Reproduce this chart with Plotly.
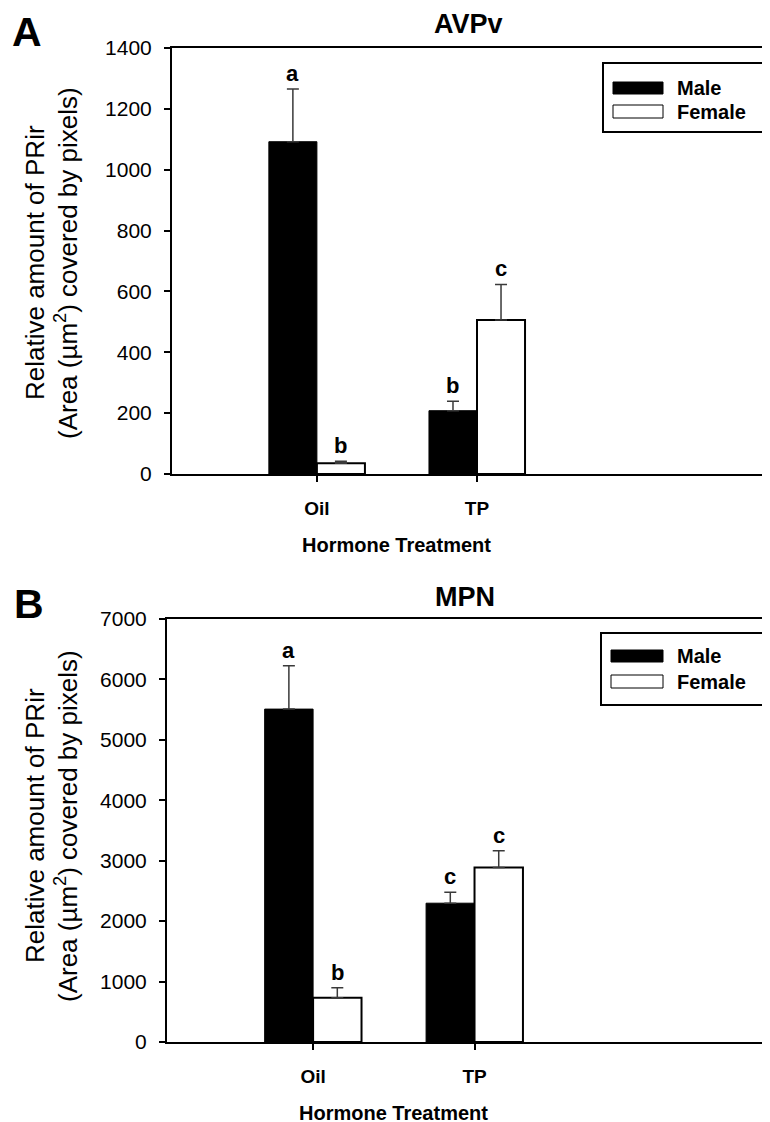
import plotly.graph_objects as go

W, H = 770, 1122
OFF = 8  # page body margin in the viewer

categories = ["Oil", "TP"]
series = ["Male", "Female"]

# Panel A: AVPv
avpv_male = [1092, 208]
avpv_male_err = [173, 31]
avpv_female = [35, 506]
avpv_female_err = [7, 117]
avpv_male_letters = ["a", "b"]
avpv_female_letters = ["b", "c"]

# Panel B: MPN
mpn_male = [5509, 2297]
mpn_male_err = [717, 182]
mpn_female = [734, 2887]
mpn_female_err = [165, 276]
mpn_male_letters = ["a", "c"]
mpn_female_letters = ["b", "c"]

avpv_ticks = [0, 200, 400, 600, 800, 1000, 1200, 1400]
mpn_ticks = [0, 1000, 2000, 3000, 4000, 5000, 6000, 7000]

FONT = "Arial, Liberation Sans, Helvetica, sans-serif"
BAR_W = 0.3


def px(x):
    return (x - OFF) / W


def py(y):
    return 1 - (y - OFF) / H


fig = go.Figure()
idx = list(range(len(categories)))

panels = [
    dict(xa="x", ya="y", male=avpv_male, merr=avpv_male_err, fem=avpv_female,
         ferr=avpv_female_err, ml=avpv_male_letters, fl=avpv_female_letters),
    dict(xa="x2", ya="y2", male=mpn_male, merr=mpn_male_err, fem=mpn_female,
         ferr=mpn_female_err, ml=mpn_male_letters, fl=mpn_female_letters),
]

annotations = []
for p in panels:
    fig.add_trace(go.Bar(
        x=idx, y=p["male"], width=BAR_W, offset=-BAR_W, name=series[0],
        xaxis=p["xa"], yaxis=p["ya"], showlegend=False,
        marker=dict(color="black", line=dict(color="black", width=1)),
        error_y=dict(type="data", array=p["merr"], arrayminus=[0] * len(idx),
                     symmetric=False, color="#3a3a3a", thickness=1.5, width=6),
    ))
    fig.add_trace(go.Bar(
        x=idx, y=p["fem"], width=BAR_W, offset=0, name=series[1],
        xaxis=p["xa"], yaxis=p["ya"], showlegend=False,
        marker=dict(color="white", line=dict(color="black", width=2)),
        error_y=dict(type="data", array=p["ferr"], arrayminus=[0] * len(idx),
                     symmetric=False, color="#3a3a3a", thickness=1.5, width=6),
    ))
    for i in idx:
        annotations.append(dict(
            x=i - BAR_W / 2, y=p["male"][i] + p["merr"][i], xref=p["xa"], yref=p["ya"],
            text="<b>%s</b>" % p["ml"][i], showarrow=False, yanchor="bottom",
            yshift=1, font=dict(family=FONT, size=22, color="black")))
        annotations.append(dict(
            x=i + BAR_W / 2, y=p["fem"][i] + p["ferr"][i], xref=p["xa"], yref=p["ya"],
            text="<b>%s</b>" % p["fl"][i], showarrow=False, yanchor="bottom",
            yshift=1, font=dict(family=FONT, size=22, color="black")))
    # x-axis title centred between the two categories
    annotations.append(dict(
        x=sum(idx) / len(idx), xref=p["xa"],
        y=py(545) if p["xa"] == "x" else py(1113), yref="paper",
        text="<b>Hormone Treatment</b>", showarrow=False,
        xanchor="center", yanchor="middle",
        font=dict(family=FONT, size=20, color="black")))

axis_common_x = dict(
    range=[-0.905, 2.88], tickmode="array", tickvals=idx,
    ticktext=["<b>%s</b>" % c for c in categories],
    ticks="outside", ticklen=6, tickwidth=1.5, tickcolor="black",
    showline=True, linecolor="black", linewidth=2, mirror=True,
    showgrid=False, zeroline=False, ticklabelstandoff=10, automargin=False,
    tickfont=dict(family=FONT, size=19, color="black"),
)
axis_common_y = dict(
    ticks="outside", ticklen=6, tickwidth=1.5, tickcolor="black",
    showline=True, linecolor="black", linewidth=2, mirror=False,
    showgrid=False, zeroline=False, ticklabelstandoff=8, automargin=False,
    tickfont=dict(family=FONT, size=21, color="black"),
)

fig.update_layout(
    width=W, height=H,
    margin=dict(l=0, r=0, t=0, b=0, autoexpand=False),
    paper_bgcolor="white", plot_bgcolor="white",
    showlegend=False,
    xaxis=dict(domain=[px(172), 1], anchor="y", **axis_common_x),
    yaxis=dict(domain=[py(474), py(48)], anchor="x", range=[0, 1400],
               tickvals=avpv_ticks, **axis_common_y),
    xaxis2=dict(domain=[px(167), 1], anchor="y2", **axis_common_x),
    yaxis2=dict(domain=[py(1042), py(619)], anchor="x2", range=[0, 7000],
                tickvals=mpn_ticks, **axis_common_y),
)

# panel titles, letters, y-axis titles
for (title, tx, ty, letter, lx, ly, ycen) in [
    ("AVPv", 468, 24, "A", 27, 32, 263),
    ("MPN", 465, 597, "B", 29, 604, 826),
]:
    annotations.append(dict(x=px(tx), y=py(ty), xref="paper", yref="paper",
                            text="<b>%s</b>" % title, showarrow=False,
                            xanchor="center", yanchor="middle",
                            font=dict(family=FONT, size=27, color="black")))
    annotations.append(dict(x=px(lx), y=py(ly), xref="paper", yref="paper",
                            text="<b>%s</b>" % letter, showarrow=False,
                            xanchor="center", yanchor="middle",
                            font=dict(family=FONT, size=41, color="black")))
    annotations.append(dict(x=px(35), y=py(ycen), xref="paper", yref="paper",
                            text="Relative amount of PRir", showarrow=False,
                            textangle=-90, xanchor="center", yanchor="middle",
                            font=dict(family=FONT, size=26, color="black")))
    annotations.append(dict(x=px(66), y=py(ycen), xref="paper", yref="paper",
                            text="(Area (\u00b5m<sup>2</sup>) covered by pixels)",
                            showarrow=False, textangle=-90,
                            xanchor="center", yanchor="middle",
                            font=dict(family=FONT, size=26, color="black")))

# manual legends (wide swatches like the original)
shapes = []
for (bx0, by0, bx1, by1, m_y, f_y, sx0, sx1, tx) in [
    (603, 63, 765, 132, (82, 94), (105, 118), 613, 663, 675),
    (601, 633, 767, 705, (650, 662), (675, 688), 611, 663, 675),
]:
    shapes.append(dict(type="rect", xref="paper", yref="paper",
                       x0=px(bx0), x1=px(bx1), y0=py(by1), y1=py(by0),
                       line=dict(color="black", width=2), fillcolor="white"))
    shapes.append(dict(type="rect", xref="paper", yref="paper",
                       x0=px(sx0), x1=px(sx1), y0=py(m_y[1]), y1=py(m_y[0]),
                       line=dict(color="black", width=1), fillcolor="black"))
    shapes.append(dict(type="rect", xref="paper", yref="paper",
                       x0=px(sx0), x1=px(sx1), y0=py(f_y[1]), y1=py(f_y[0]),
                       line=dict(color="black", width=1), fillcolor="white"))
    for name, yy in zip(series, [m_y, f_y]):
        annotations.append(dict(x=px(tx), y=py((yy[0] + yy[1]) / 2), xref="paper",
                                yref="paper", text="<b>%s</b>" % name,
                                showarrow=False, xanchor="left", yanchor="middle",
                                font=dict(family=FONT, size=20, color="black")))

fig.update_layout(annotations=annotations, shapes=shapes)
fig.write_html("out.html")
